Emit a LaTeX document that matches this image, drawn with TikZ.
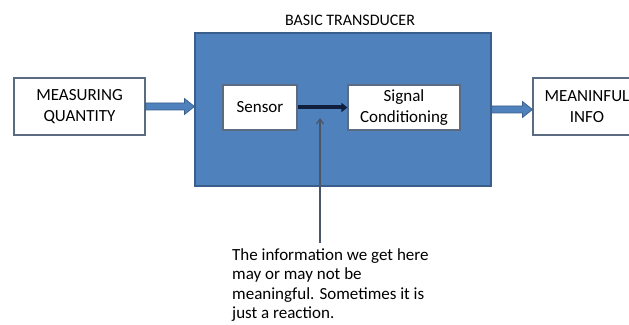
\documentclass[tikz,border=0pt]{standalone}
\usepackage{fontspec}
\setmainfont{Carlito}
\usetikzlibrary{calc,arrows.meta}
\definecolor{officeblue}{HTML}{4F81BD}
\definecolor{blueedge}{HTML}{3A5F8C}
\definecolor{navy}{HTML}{0F1F3D}
\definecolor{boxedge}{HTML}{5B6B82}
\definecolor{pointer}{HTML}{4A5566}
\tikzset{
  txt/.style={font=\fontsize{17}{20.5}\selectfont, text=black},
  whitebox/.style={txt, draw=boxedge, line width=1.2pt, fill=white, align=center, inner sep=0pt},
  bigblue/.style={draw=blueedge, line width=1.2pt, fill=officeblue, inner sep=0pt},
  blockarrow/.style={fill=officeblue, draw=blueedge, line width=0.8pt},
  link/.style={draw=navy, line width=4pt, -{Triangle[length=6pt,width=9pt]}},
  pointerline/.style={draw=pointer, line width=1.2pt, -{Straight Barb[length=5pt,width=7pt]}}
}
% filled block arrow from the east side of one node to the facing side of another
\newcommand{\fatarrow}[2]{%
  \path[blockarrow] let \p1=(#1.east), \p2=($(#1.east -| #2.west)$) in
    (\x1,\y1-3.5) -- (\x2-10,\y1-3.5) -- (\x2-10,\y1-8) -- (\x2,\y1) --
    (\x2-10,\y1+8) -- (\x2-10,\y1+3.5) -- (\x1,\y1+3.5) -- cycle;}
\begin{document}
\begin{tikzpicture}[x=1pt,y=1pt]
  \useasboundingbox (0,0) rectangle (629,324);
  \clip (0,0) rectangle (629,324);

  % transducer body and its title
  \node[bigblue, minimum width=296pt, minimum height=153pt] (bt) at (343,214.5) {};
  \node[txt, font=\fontsize{16}{20}\selectfont] (title) at (350,304) {BASIC TRANSDUCER};

  % outer boxes
  \node[whitebox, minimum width=131pt, minimum height=57pt] (mq) at (79.5,217.5) {MEASURING\\QUANTITY};
  \node[whitebox, minimum width=108pt, minimum height=57pt] (mi) at (587,217.5) {MEANINFUL\\INFO};

  % inner stages
  \node[whitebox, minimum width=74pt, minimum height=45pt] (sen) at (260,216.5) {Sensor};
  \node[whitebox, minimum width=112pt, minimum height=45pt] (sc) at (404,216.5) {Signal\\Conditioning};

  % flow arrows
  \fatarrow{mq}{bt}
  \fatarrow{bt}{mi}
  \draw[link] (sen.east) -- (sc.west);

  % annotation
  \coordinate (tip) at (320,206);
  \node[txt, font=\fontsize{17}{19.5}\selectfont, anchor=north west, align=left, inner sep=0pt] (note) at (232,76)
    {The information we get here\\may or may not be\\meaningful. Sometimes it is\\just a reaction.};
  \coordinate (foot) at (320,81);
  \draw[pointerline] (foot) -- (tip);
\end{tikzpicture}
\end{document}
